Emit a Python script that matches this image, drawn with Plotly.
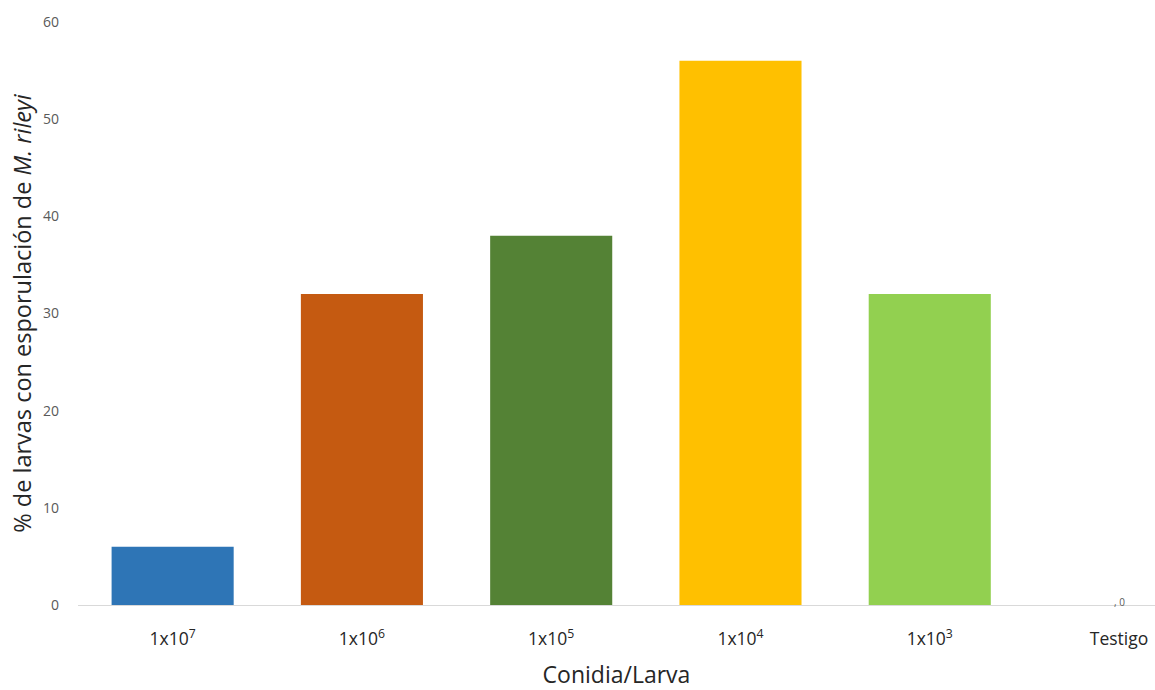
import plotly.graph_objects as go

categories = ["1x10<sup>7</sup>", "1x10<sup>6</sup>", "1x10<sup>5</sup>", "1x10<sup>4</sup>", "1x10<sup>3</sup>", "Testigo"]
values = [6, 32, 38, 56, 32, 0]
colors = ["#2E75B6", "#C55A11", "#548235", "#FFC000", "#92D050", "#A5A5A5"]
y_ticks = [0, 10, 20, 30, 40, 50, 60]

fig = go.Figure()
fig.add_trace(go.Bar(
    x=list(range(len(categories))), y=values,
    marker=dict(color=colors, line=dict(width=0)),
    width=0.645, showlegend=False,
))
fig.add_annotation(x=5, y=0, text=", 0", showarrow=False, xanchor="center", yanchor="bottom",
                   font=dict(family="Open Sans", size=10, color="#595959"), yshift=-6)

fig.update_layout(
    width=1155, height=690,
    margin=dict(l=78, r=0, t=22, b=85),
    paper_bgcolor="white", plot_bgcolor="white",
    font=dict(family="Open Sans", color="#262626"),
    xaxis=dict(
        range=[-0.5, 5.19], automargin=False,
        tickmode="array", tickvals=list(range(len(categories))), ticktext=categories,
        tickfont=dict(size=17.5, color="#262626"),
        showline=True, linecolor="#D9D9D9", linewidth=1,
        showgrid=False, zeroline=False, ticks="",
        ticklabelstandoff=18,
        title=dict(text="Conidia/Larva", font=dict(size=23, color="#262626"), standoff=20),
    ),
    yaxis=dict(
        range=[0, 60], tickmode="array", tickvals=y_ticks, automargin=False,
        tickfont=dict(size=14, color="#595959"),
        showgrid=False, zeroline=False, showline=False, ticks="",
        ticklabelstandoff=18,
        title=dict(text="% de larvas con esporulación de <i>M. rileyi</i>",
                   font=dict(size=23.5, color="#262626"), standoff=4),
    ),
)

fig.write_html("out.html", config={"displayModeBar": False},
               post_script="document.body.style.margin='0';document.body.style.overflow='hidden';")
